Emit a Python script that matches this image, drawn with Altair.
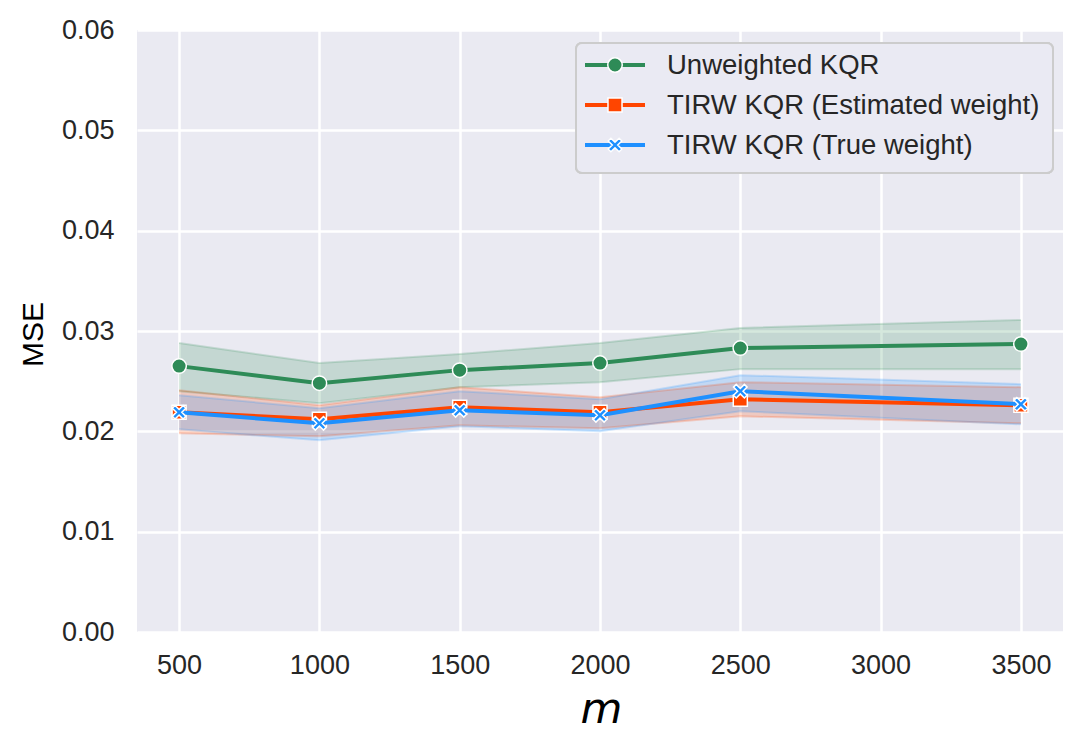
import altair as alt
import pandas as pd

m_values = [500, 1000, 1500, 2000, 2500, 3500]
series_names = ["Unweighted KQR", "TIRW KQR (Estimated weight)", "TIRW KQR (True weight)"]
series_colors = ["#2E8B57", "#FF4500", "#1E90FF"]

unw = [0.0265, 0.0248, 0.0261, 0.0268, 0.0283, 0.0287]
unw_lo = [0.0240, 0.0228, 0.0244, 0.0249, 0.0262, 0.0262]
unw_hi = [0.0288, 0.0268, 0.0277, 0.0288, 0.0303, 0.0311]

est = [0.0219, 0.0212, 0.0224, 0.0219, 0.0232, 0.0226]
est_lo = [0.0198, 0.0195, 0.0206, 0.0203, 0.0215, 0.0208]
est_hi = [0.0241, 0.0226, 0.0244, 0.0234, 0.0249, 0.0244]

tru = [0.0219, 0.0208, 0.0221, 0.0216, 0.0240, 0.0227]
tru_lo = [0.0202, 0.0191, 0.0205, 0.0200, 0.0220, 0.0207]
tru_hi = [0.0236, 0.0223, 0.0240, 0.0232, 0.0256, 0.0247]

y_ticks = [0.0, 0.01, 0.02, 0.03, 0.04, 0.05, 0.06]
x_ticks = [500, 1000, 1500, 2000, 2500, 3000, 3500]

rows = []
for name, mid, lo, hi in zip(series_names, [unw, est, tru], [unw_lo, est_lo, tru_lo], [unw_hi, est_hi, tru_hi]):
    for i, m in enumerate(m_values):
        rows.append({"series": name, "m": m, "mse": mid[i], "lo": lo[i], "hi": hi[i]})
df = pd.DataFrame(rows)
legend_df = pd.DataFrame({"series": series_names})

FONT = "Liberation Sans"
X_PATH = ("M-1,-0.6L-0.6,-1L0,-0.4L0.6,-1L1,-0.6L0.4,0L1,0.6L0.6,1L0,0.4L-0.6,1L-1,0.6L-0.4,0Z")
color = alt.Color("series:N", scale=alt.Scale(domain=series_names, range=series_colors), legend=None)
fill = alt.Fill("series:N", scale=alt.Scale(domain=series_names, range=series_colors), legend=None)
shape = alt.Shape("series:N", scale=alt.Scale(domain=series_names, range=["circle", "square", X_PATH]), legend=None)
size = alt.Size("series:N", scale=alt.Scale(domain=series_names, range=[210, 185, 200]), legend=None)

xenc = alt.X("m:Q", scale=alt.Scale(domain=[350, 3650], nice=False, zero=False),
             axis=alt.Axis(values=x_ticks, title="m", format="d", labelPadding=41, labelBaseline="alphabetic",
                           titleFont="DejaVu Sans", titleFontStyle="italic", titleFontSize=43, titleFontWeight="normal",
                           titleColor="black", titleY=90, titleBaseline="alphabetic", titleX=464))
yscale = alt.Scale(domain=[0, 0.06], nice=False)
yenc = alt.Y("mse:Q", scale=yscale,
             axis=alt.Axis(values=y_ticks, format=".2f", title="MSE", labelPadding=23,
                           titleFontSize=30, titleFontWeight="normal", titleColor="black",
                           titleAngle=270, titleX=-104, titleY=304, titleAlign="center", titleBaseline="middle"))

base = alt.Chart(df)
bands = []
edges = []
for name in series_names:
    sub = base.transform_filter(alt.datum.series == name)
    bands.append(sub.mark_area(opacity=0.2).encode(x=xenc, y=alt.Y("lo:Q", scale=yscale), y2="hi:Q", color=color))
    edges.append(sub.mark_line(opacity=0.2, strokeWidth=2).encode(x="m:Q", y=alt.Y("lo:Q", scale=yscale), color=color))
    edges.append(sub.mark_line(opacity=0.2, strokeWidth=2).encode(x="m:Q", y=alt.Y("hi:Q", scale=yscale), color=color))

lines_pts = []
for name in series_names:
    sub = base.transform_filter(alt.datum.series == name)
    lines_pts.append(sub.mark_line(strokeWidth=4).encode(x=xenc, y=yenc, color=color))
    lines_pts.append(sub.mark_point(filled=True, opacity=1, stroke="white", strokeWidth=1.5).encode(
        x="m:Q", y=alt.Y("mse:Q", scale=yscale), fill=fill, shape=shape, size=size))

# Legend
frame = alt.Chart(legend_df).mark_rect(fill="#EAEAF2", fillOpacity=0.8, stroke="#CCCCCC", strokeWidth=2, cornerRadius=6).encode(
    x=alt.value(439), x2=alt.value(916), y=alt.value(13), y2=alt.value(143))
ly = alt.Y("series:N", scale=alt.Scale(type="point", domain=series_names, range=[35, 115], padding=0), axis=None)
leg_line = alt.Chart(legend_df).mark_rule(strokeWidth=4).encode(x=alt.value(448), x2=alt.value(508), y=ly, color=color)
leg_pt = alt.Chart(legend_df).mark_point(filled=True, opacity=1, stroke="white", strokeWidth=1.5).encode(
    x=alt.value(478), y=ly, fill=fill, shape=shape, size=size)
leg_text = alt.Chart(legend_df).mark_text(align="left", baseline="middle", font=FONT, fontSize=27.5, color="#262626", dy=1).encode(
    x=alt.value(530), y=ly, text="series:N")
legend = alt.layer(frame, leg_line, leg_pt, leg_text)

main = alt.layer(*bands, *edges, *lines_pts)

chart = alt.layer(main, legend).resolve_scale(y="independent").properties(
    width=926, height=602,
    autosize=alt.AutoSizeParams(type="none"),
    padding={"left": 129, "top": 22, "right": 14, "bottom": 108},
).configure(font=FONT, background="white").configure_view(fill="#EAEAF2", stroke=None).configure_axis(
    grid=True, gridColor="white", gridWidth=2.5, domain=False, ticks=False, tickSize=0,
    labelFont=FONT, labelFontSize=27, labelColor="#262626", titleFont=FONT,
)

chart.save("out.html", embed_options={"renderer": "svg", "actions": False})
